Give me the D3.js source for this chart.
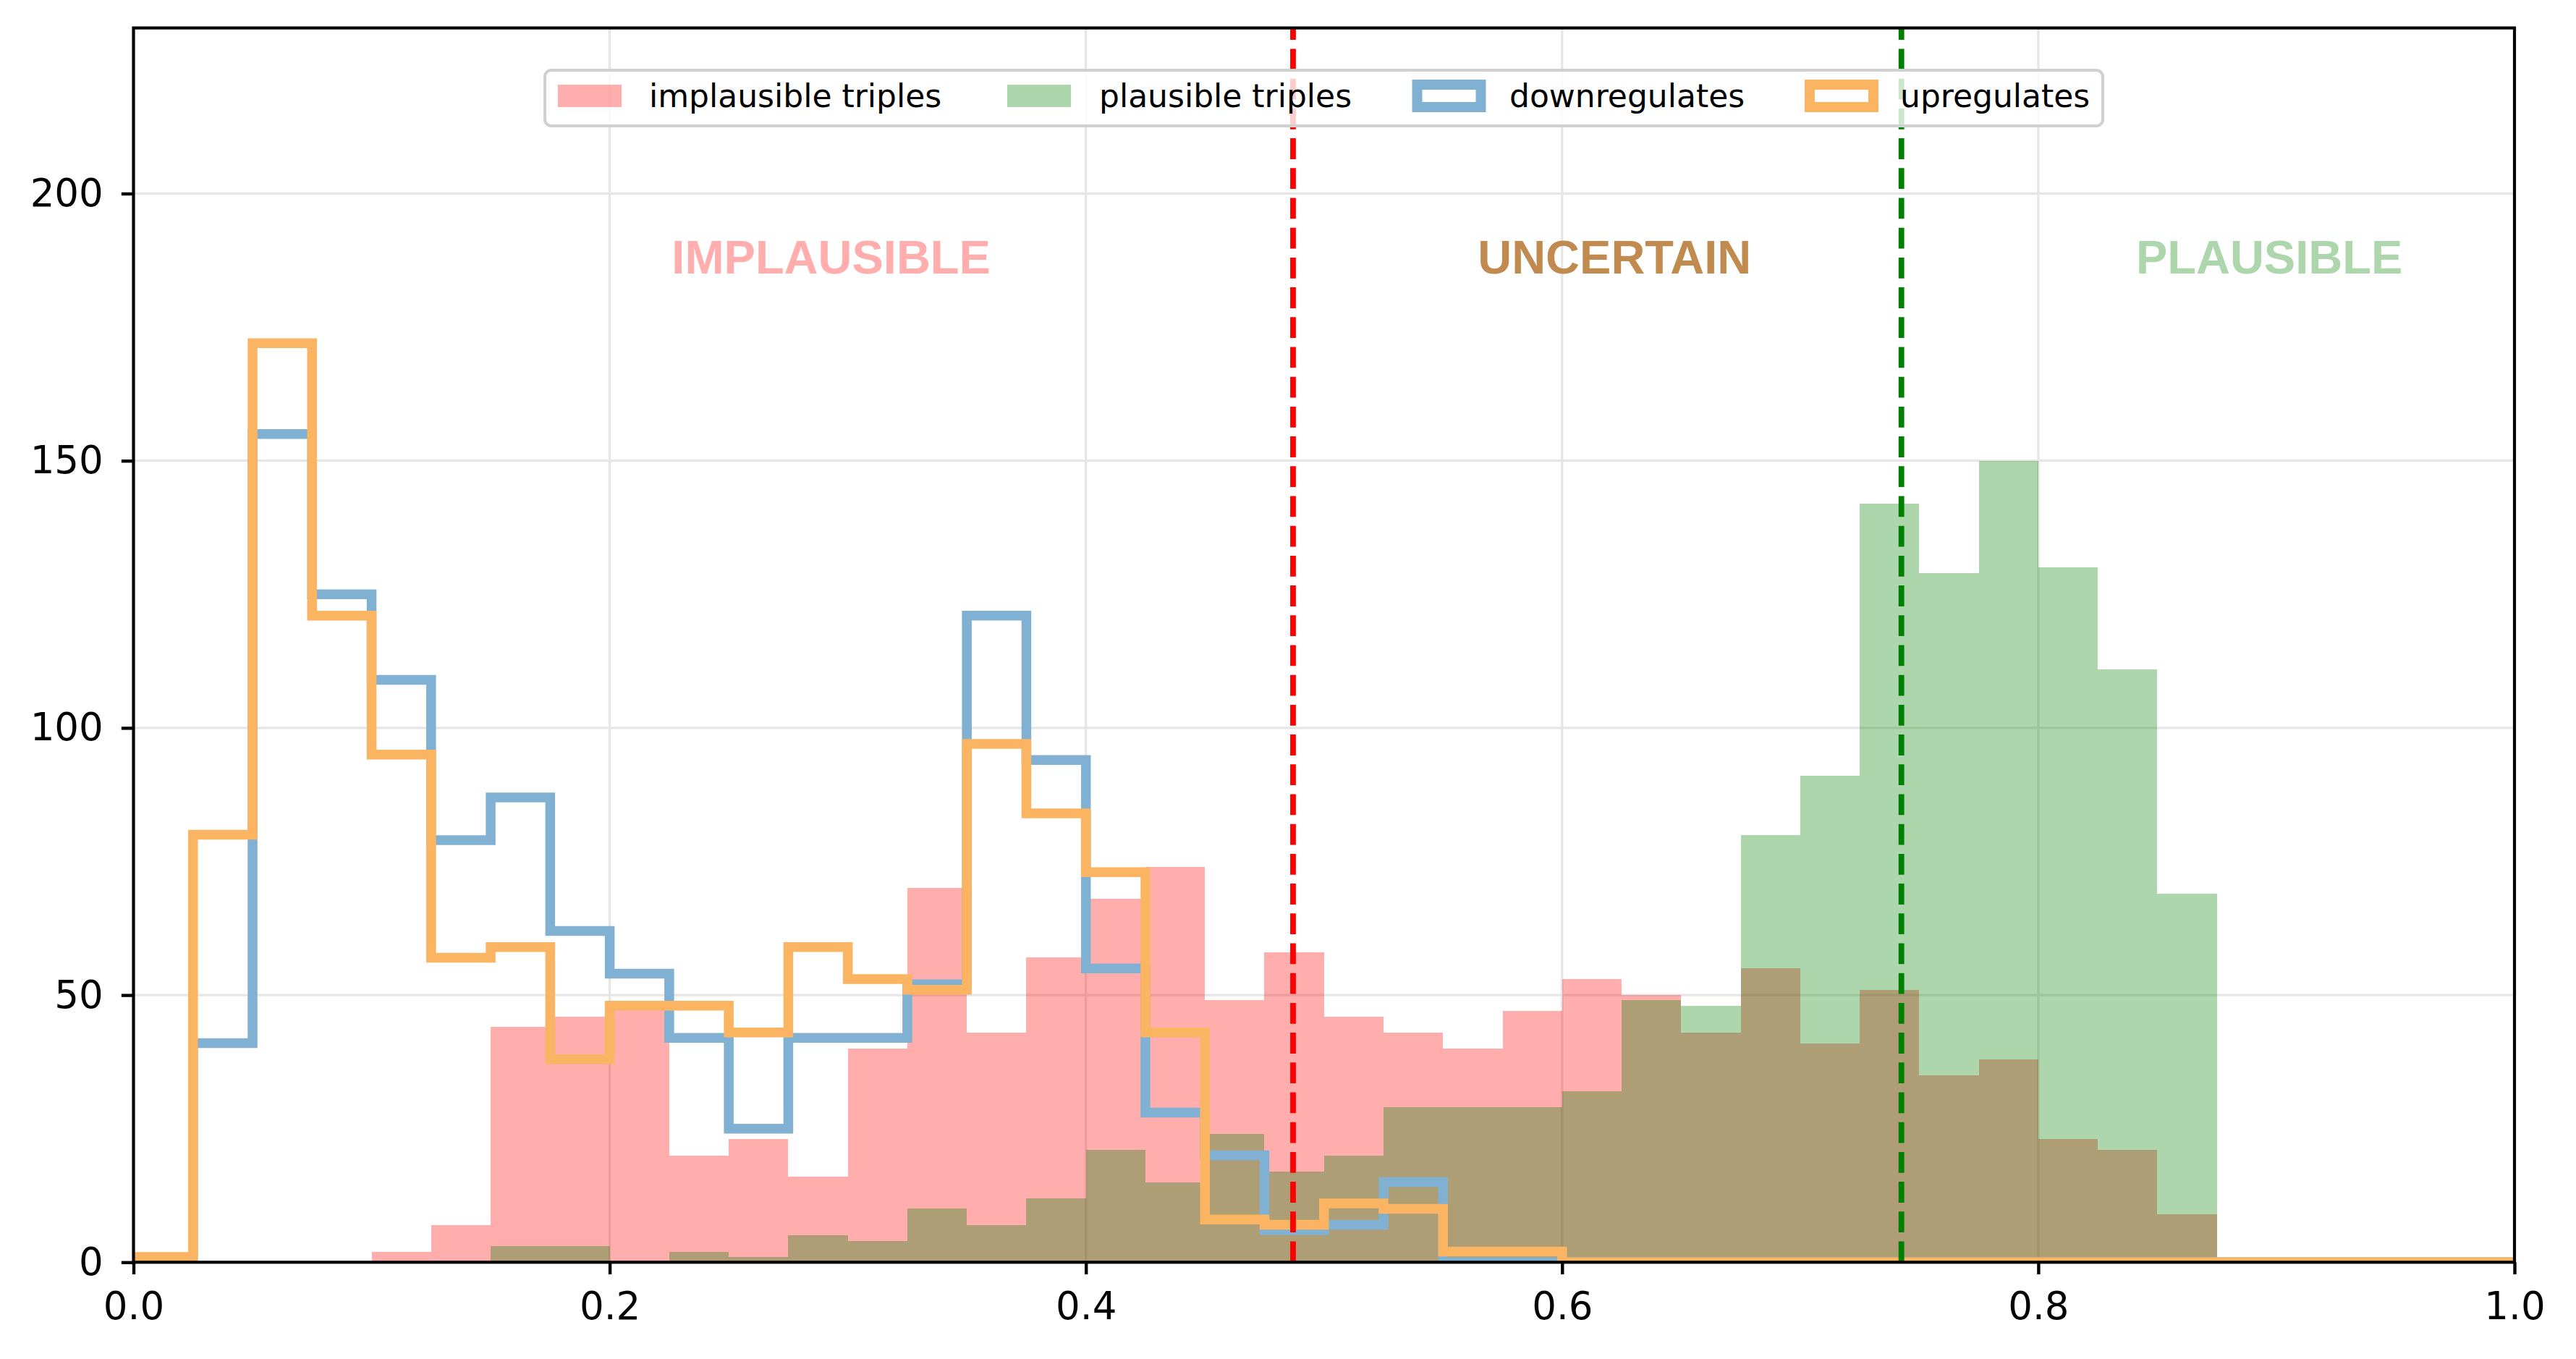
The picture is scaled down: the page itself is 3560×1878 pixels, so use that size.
<!DOCTYPE html>
<html>
<head>
<meta charset="utf-8">
<script src="https://cdn.jsdelivr.net/npm/d3@7"></script>
<style>
  html, body { margin: 0; padding: 0; background: #ffffff; }
  svg { display: block; }
</style>
</head>
<body>
<svg id="chart" width="3560" height="1878"></svg>
<script>
// ---------------- DATA ----------------
const binStart = 0.0;
const binWidth = 0.025;
const binCount = 40;

const implausible = [0,0,0,0,2,7,44,46,48,20,23,16,40,70,43,57,68,74,49,58,46,43,40,47,53,50,43,55,41,51,35,38,23,21,9,0,0,0,0,0];
const plausible   = [0,0,0,0,0,0,3,3,0,2,1,5,4,10,7,12,21,15,24,17,20,29,29,29,32,49,48,80,91,142,129,150,130,111,69,0,0,0,0,0];
const downregulates = [0,41,155,125,109,79,87,62,54,42,25,42,42,52,121,94,55,28,20,6,7,15,0,0,0,0,0,0,0,0,0,0,0,0,0,0,0,0,0,0];
const upregulates   = [1,80,172,121,95,57,59,38,48,48,43,59,53,51,97,84,73,43,8,7,11,10,2,2,0,0,0,0,0,0,0,0,0,0,0,0,0,0,0,0];

const xTicks = [0.0, 0.2, 0.4, 0.6, 0.8, 1.0];
const xTickLabels = ["0.0", "0.2", "0.4", "0.6", "0.8", "1.0"];
const yTicks = [0, 50, 100, 150, 200];
const yTickLabels = ["0", "50", "100", "150", "200"];

const thresholdLow = 0.487;
const thresholdHigh = 0.7425;

const regionLabels = ["IMPLAUSIBLE", "UNCERTAIN", "PLAUSIBLE"];
const regionX = [0.293, 0.622, 0.897];
const regionY = 185;

const legendLabels = ["implausible triples", "plausible triples", "downregulates", "upregulates"];

// ---------------- LAYOUT / STYLE ----------------
const W = 3560, H = 1878;
const plot = { left: 184.5, right: 3475, top: 38.6, bottom: 1744.3 };
const xDomain = [0, 1], yDomain = [0, 231];

const colPink = "rgba(255,0,0,0.32)";
const colGreen = "rgba(0,128,0,0.32)";
const colBlue = "#80b1d3";
const colOrange = "#fbb462";
const lw = 13.5;

const svg = d3.select("#chart");
svg.append("rect").attr("width", W).attr("height", H).attr("fill", "#ffffff");

const x = d3.scaleLinear().domain(xDomain).range([plot.left, plot.right]);
const y = d3.scaleLinear().domain(yDomain).range([plot.bottom, plot.top]);

const clip = svg.append("defs").append("clipPath").attr("id", "plotclip")
  .append("rect").attr("x", plot.left).attr("y", plot.top)
  .attr("width", plot.right - plot.left).attr("height", plot.bottom - plot.top);

// Grid
const grid = svg.append("g");
grid.selectAll("line.gy").data(yTicks.filter(d => d > 0)).enter().append("line")
  .attr("x1", plot.left).attr("x2", plot.right)
  .attr("y1", d => y(d)).attr("y2", d => y(d))
  .attr("stroke", "#e6e6e6").attr("stroke-width", 3.3);
grid.selectAll("line.gx").data(xTicks.filter(d => d > 0 && d < 1)).enter().append("line")
  .attr("y1", plot.top).attr("y2", plot.bottom)
  .attr("x1", d => x(d)).attr("x2", d => x(d))
  .attr("stroke", "#e6e6e6").attr("stroke-width", 3.3);

const bins = d3.range(binCount).map(i => ({ x0: binStart + i * binWidth, x1: binStart + (i + 1) * binWidth, i }));

const body = svg.append("g").attr("clip-path", "url(#plotclip)");

function bars(values, color) {
  body.append("g").selectAll("rect").data(bins.filter(b => values[b.i] > 0)).enter().append("rect")
    .attr("x", b => x(b.x0))
    .attr("width", b => x(b.x1) - x(b.x0))
    .attr("y", b => y(values[b.i]))
    .attr("height", b => y(0) - y(values[b.i]))
    .attr("fill", color)
    .attr("shape-rendering", "crispEdges");
}
bars(implausible, colPink);
bars(plausible, colGreen);

function stepLine(values, color) {
  const pts = [[binStart, 0]];
  bins.forEach(b => pts.push([b.x0, values[b.i]]));
  pts.push([bins[bins.length - 1].x1, values[values.length - 1]]);
  pts.push([bins[bins.length - 1].x1, 0]);
  const line = d3.line().x(d => x(d[0])).y(d => y(d[1])).curve(d3.curveStepAfter);
  body.append("path").attr("d", line(pts))
    .attr("fill", "none").attr("stroke", color).attr("stroke-width", lw)
    .attr("stroke-linejoin", "miter").attr("stroke-linecap", "butt");
}
stepLine(downregulates, colBlue);
stepLine(upregulates, colOrange);

// Threshold lines
[[thresholdLow, "#ff0000"], [thresholdHigh, "#008000"]].forEach(([t, c]) => {
  svg.append("line")
    .attr("x1", x(t)).attr("x2", x(t)).attr("y1", plot.bottom).attr("y2", plot.top)
    .attr("stroke", c).attr("stroke-width", 7.8).attr("stroke-dasharray", "28.8,12.4");
});

// Region labels
const regionColors = ["#ffadad", "#c18b4f", "#add6ad"];
regionLabels.forEach((t, i) => {
  svg.append("text").text(t)
    .attr("x", x(regionX[i])).attr("y", y(regionY))
    .attr("text-anchor", "middle")
    .attr("font-family", "'Liberation Sans', Arial, sans-serif")
    .attr("font-weight", "bold").attr("font-size", 65)
    .attr("fill", regionColors[i]);
});

// Spines
svg.append("rect").attr("x", plot.left).attr("y", plot.top)
  .attr("width", plot.right - plot.left).attr("height", plot.bottom - plot.top)
  .attr("fill", "none").attr("stroke", "#000").attr("stroke-width", 4.2);

// Axes (ticks + labels)
const tickLen = 16.7;
const xAxis = d3.axisBottom(x).tickValues(xTicks).tickFormat((d, i) => xTickLabels[i])
  .tickSizeInner(tickLen).tickSizeOuter(0).tickPadding(24);
const gx = svg.append("g").attr("transform", `translate(0,${plot.bottom})`).call(xAxis);
gx.select(".domain").remove();
gx.selectAll(".tick line").attr("stroke", "#000").attr("stroke-width", 4.4);
gx.selectAll(".tick text").attr("font-family", "'DejaVu Sans', sans-serif").attr("font-size", 53).attr("fill", "#000");

const yAxis = d3.axisLeft(y).tickValues(yTicks).tickFormat((d, i) => yTickLabels[i])
  .tickSizeInner(tickLen).tickSizeOuter(0).tickPadding(25);
const gy = svg.append("g").attr("transform", `translate(${plot.left},0)`).call(yAxis);
gy.select(".domain").remove();
gy.selectAll(".tick line").attr("stroke", "#000").attr("stroke-width", 4.4);
gy.selectAll(".tick text").attr("font-family", "'DejaVu Sans', sans-serif").attr("font-size", 53).attr("fill", "#000");

// Legend
const lg = svg.append("g");
lg.append("rect").attr("x", 753).attr("y", 97).attr("width", 2153).attr("height", 77)
  .attr("rx", 9).attr("ry", 9)
  .attr("fill", "rgba(255,255,255,0.8)").attr("stroke", "#d0d0d0").attr("stroke-width", 4);
const patchX = [771, 1392, 1958.5, 2501];
const textX = [897, 1519, 2086, 2626];
const patchY = 117, patchW = 88, patchH = 31;
legendLabels.forEach((t, i) => {
  if (i < 2) {
    lg.append("rect").attr("x", patchX[i]).attr("y", patchY).attr("width", patchW).attr("height", patchH)
      .attr("fill", i === 0 ? colPink : colGreen);
  } else {
    lg.append("rect").attr("x", patchX[i]).attr("y", patchY).attr("width", patchW).attr("height", patchH)
      .attr("fill", "none").attr("stroke", i === 2 ? colBlue : colOrange).attr("stroke-width", 14);
  }
  lg.append("text").text(t).attr("x", textX[i]).attr("y", 147.7)
    .attr("font-family", "'DejaVu Sans', sans-serif").attr("font-size", 44).attr("fill", "#000");
});
</script>
</body>
</html>
